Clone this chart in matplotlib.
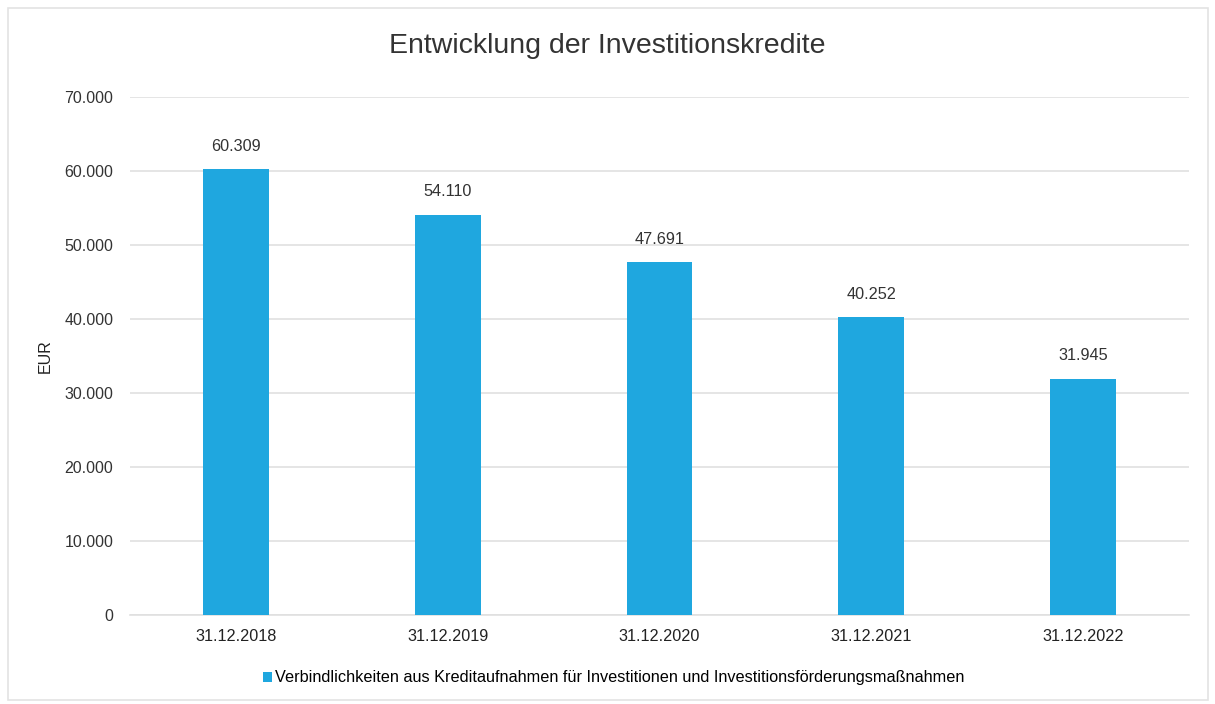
import matplotlib
matplotlib.use("Agg")
import matplotlib.pyplot as plt
from matplotlib.patches import Rectangle

categories = ["31.12.2018", "31.12.2019", "31.12.2020", "31.12.2021", "31.12.2022"]
values = [60309, 54110, 47691, 40252, 31945]
yticks = [0, 10000, 20000, 30000, 40000, 50000, 60000, 70000]
series_name = "Verbindlichkeiten aus Kreditaufnahmen für Investitionen und Investitionsförderungsmaßnahmen"
title = "Entwicklung der Investitionskredite"

def fmt(v):
    return f"{v:,.0f}".replace(",", ".")

plt.rcParams['font.family'] = ['Liberation Sans', 'DejaVu Sans']
fig = plt.figure(figsize=(12.15, 7.04), dpi=100)
fig.patch.set_facecolor("white")
fig.add_artist(Rectangle((8/1215, 4/704), 1200/1215, 692/704, transform=fig.transFigure,
                         fill=False, edgecolor="#e3e3e3", linewidth=1.2))
ax = fig.add_axes([0.107, 0.1264, 0.8716, 0.7356])
color = "#1fa7df"
x = list(range(len(categories)))
bars = ax.bar(x, values, width=0.31, color=color, label=series_name, zorder=3)
ax.set_xlim(-0.5, len(categories) - 0.5)
ax.set_ylim(0, 70000)
ax.set_yticks(yticks)
ax.set_yticklabels([fmt(v) for v in yticks], fontsize=11.5, color="#333333")
ax.set_xticks(x)
ax.set_xticklabels(categories, fontsize=11.7, color="#222222")
ax.tick_params(axis="both", length=0, pad=10)
ax.tick_params(axis="y", pad=12)
ax.grid(axis="y", color="#e0e0e0", linewidth=1.2, zorder=0)
for s in ["top", "right", "left"]:
    ax.spines[s].set_visible(False)
ax.spines["bottom"].set_color("#e0e0e0")
ax.spines["bottom"].set_linewidth(1.2)
for b, v in zip(bars, values):
    ax.annotate(fmt(v), (b.get_x() + b.get_width() / 2, v), xytext=(0, 11),
                textcoords="offset points", ha="center", va="bottom", fontsize=11.7, color="#333333")
ax.set_ylabel("EUR", fontsize=11.5, color="#222222", labelpad=8)
fig.text(0.5, 0.935, title, ha="center", va="center", fontsize=20.5, color="#333333")
fig.legend(loc="center", bbox_to_anchor=(0.505, 0.037), frameon=False, fontsize=11.7,
           handlelength=0.55, handleheight=0.55, handletextpad=0.15)
fig.savefig("out.png", dpi=100, facecolor="white")
